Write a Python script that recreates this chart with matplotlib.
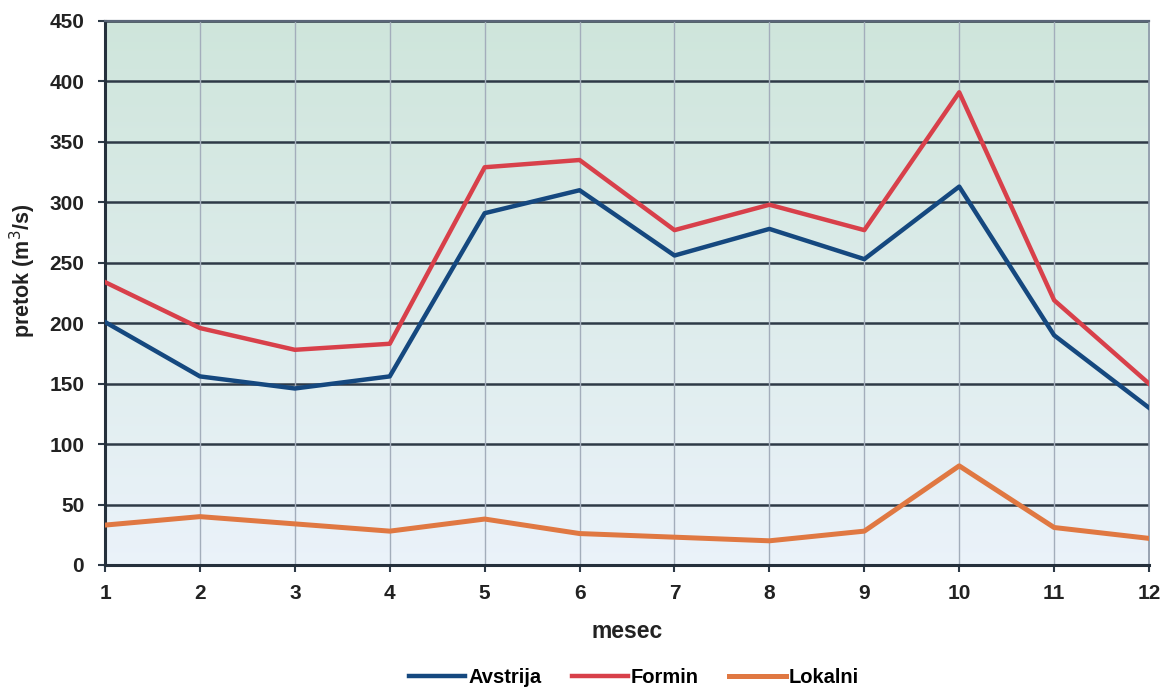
import matplotlib
matplotlib.use('Agg')
import matplotlib.pyplot as plt
import numpy as np

# Data
months = [1, 2, 3, 4, 5, 6, 7, 8, 9, 10, 11, 12]
avstrija = [201, 156, 146, 156, 291, 310, 256, 278, 253, 313, 190, 130]
formin = [234, 196, 178, 183, 329, 335, 277, 298, 277, 391, 219, 150]
lokalni = [33, 40, 34, 28, 38, 26, 23, 20, 28, 82, 31, 22]
y_ticks = [0, 50, 100, 150, 200, 250, 300, 350, 400, 450]

plt.rcParams['font.family'] = ['Liberation Sans', 'DejaVu Sans']

fig = plt.figure(figsize=(11.63, 6.88), dpi=100)
ax = fig.add_axes([0.0903, 0.1788, 0.8977, 0.7907])

# gradient background: greenish at top, light blue at bottom
top = np.array([0.81, 0.90, 0.86])
bottom = np.array([0.92, 0.95, 0.98])
t = np.linspace(0, 1, 256)[:, None]
grad = (top * (1 - t) + bottom * t)[:, None, :]
ax.imshow(grad, extent=[1, 12, 0, 450], aspect='auto', zorder=0)

# grid
for y in y_ticks[1:]:
    ax.axhline(y, color='#2e3a47', lw=1.8, zorder=1)
for x in months[1:-1]:
    ax.axvline(x, color='#a3adbb', lw=1.0, zorder=1)

ax.plot(months, avstrija, color='#15487f', lw=3.2, label='Avstrija', zorder=3)
ax.plot(months, formin, color='#d8404a', lw=3.2, label='Formin', zorder=3)
ax.plot(months, lokalni, color='#e07842', lw=3.6, label='Lokalni', zorder=3)

ax.set_xlim(1, 12)
ax.set_ylim(0, 450)
ax.set_xticks(months)
ax.set_yticks(y_ticks)
ax.tick_params(axis='both', labelsize=15, length=5, width=1.5, color='#2e3a47')
ax.tick_params(axis='x', pad=9)
ax.tick_params(axis='y', pad=10)
for lab in ax.get_xticklabels() + ax.get_yticklabels():
    lab.set_fontweight('bold')
    lab.set_color('#222222')

ax.spines['left'].set_color('#25303c')
ax.spines['left'].set_linewidth(2.2)
ax.spines['bottom'].set_color('#25303c')
ax.spines['bottom'].set_linewidth(2.2)
ax.spines['top'].set_color('#5a6678')
ax.spines['top'].set_linewidth(1.6)
ax.spines['right'].set_color('#8a95a6')
ax.spines['right'].set_linewidth(1.2)

ax.set_xlabel('mesec', fontsize=16.5, fontweight='bold', color='#222222', labelpad=12)
ax.set_ylabel('pretok (m$^3$/s)', fontsize=15.5, fontweight='bold', color='#222222')
ax.yaxis.set_label_coords(-0.064, 0.54)

fig.legend(loc='lower center', bbox_to_anchor=(0.545, -0.025), ncol=3, frameon=False,
           handlelength=2.8, handletextpad=0.15, columnspacing=1.5,
           prop={'weight': 'bold', 'size': 14.5})

fig.savefig('out.png', dpi=100)
